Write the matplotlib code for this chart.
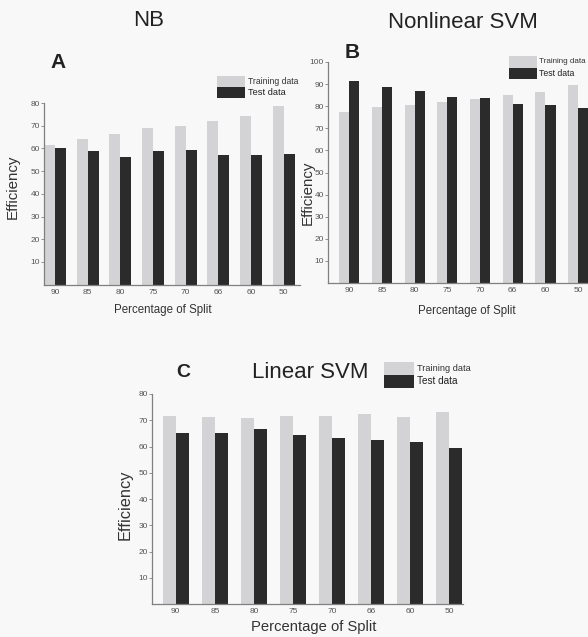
import numpy as np
import matplotlib.pyplot as plt
from matplotlib.patches import Rectangle

plt.rcParams['font.family'] = ['Liberation Sans', 'DejaVu Sans']

# split percentages (x categories)
splits = ['90', '85', '80', '75', '70', '66', '60', '50']

# NB efficiency
nb_train = [61.5, 64.0, 66.5, 69.0, 70.0, 72.0, 74.3, 78.5]
nb_test = [60.2, 58.7, 56.3, 59.0, 59.5, 57.0, 57.3, 57.7]

# Nonlinear SVM efficiency
nsvm_train = [77.5, 79.5, 80.7, 81.7, 83.3, 85.0, 86.3, 89.8]
nsvm_test = [91.2, 88.5, 87.0, 84.0, 83.8, 80.8, 80.4, 79.4]

# Linear SVM efficiency
lsvm_train = [71.5, 71.2, 71.0, 71.5, 71.5, 72.2, 71.2, 73.0]
lsvm_test = [65.3, 65.3, 66.7, 64.5, 63.2, 62.3, 61.7, 59.4]

W, H = 588, 637
BG = '#f8f8f8'
TRAIN_C = '#d3d3d5'
TEST_C = '#2b2b2b'
SPINE_C = '#808080'
TICK_C = '#555555'

fig = plt.figure(figsize=(W / 100, H / 100), dpi=100, facecolor=BG)


def px_axes(left, top, right, bottom):
    # pixel box (top-left origin) -> figure fraction
    return [left / W, 1 - bottom / H, (right - left) / W, (bottom - top) / H]


def ftext(x, y, s, **kw):
    fig.text(x / W, 1 - y / H, s, **kw)


def legend(x, y_top, pw, ph, fs, gap=3):
    fig.add_artist(Rectangle((x / W, 1 - (y_top + ph) / H), pw / W, ph / H,
                             transform=fig.transFigure, color=TRAIN_C, lw=0))
    fig.add_artist(Rectangle((x / W, 1 - (y_top + 2 * ph) / H), pw / W, ph / H,
                             transform=fig.transFigure, color=TEST_C, lw=0))
    ftext(x + pw + gap, y_top + ph / 2, 'Training data', fontsize=fs, color='#333333',
          va='center', ha='left')
    ftext(x + pw + gap, y_top + 1.5 * ph, 'Test data', fontsize=fs + 0.5, color='#222222',
          va='center', ha='left')


def panel(box, train, test, width, xlim, ylim, yticks):
    ax = fig.add_axes(px_axes(*box))
    ax.set_facecolor(BG)
    x = np.arange(len(splits))
    ax.bar(x - width / 2, train, width, color=TRAIN_C, lw=0)
    ax.bar(x + width / 2, test, width, color=TEST_C, lw=0)
    ax.set_xlim(*xlim)
    ax.set_ylim(*ylim)
    ax.set_xticks(x)
    ax.set_xticklabels(splits)
    ax.set_yticks(yticks)
    for s in ['top', 'right']:
        ax.spines[s].set_visible(False)
    for s in ['left', 'bottom']:
        ax.spines[s].set_color(SPINE_C)
        ax.spines[s].set_linewidth(0.9)
    ax.tick_params(axis='y', length=2, width=0.6, color=SPINE_C, labelsize=6,
                   labelcolor=TICK_C, pad=1)
    ax.tick_params(axis='x', length=0, labelsize=6, labelcolor=TICK_C, pad=3)
    return ax


# A - NB
panel((44, 103, 300, 284.7), nb_train, nb_test, 0.336, (-0.336, 7.5), (0, 80),
      range(10, 81, 10))
ftext(149, 20, 'NB', fontsize=16, ha='center', va='center', color='#222222')
ftext(58, 62, 'A', fontsize=15, fontweight='bold', ha='center', va='center', color='#222222')
legend(217, 76, 28, 11, 6.2)
ftext(13, 187, 'Efficiency', fontsize=10.9, rotation=90, ha='center', va='center', color='#333333')
ftext(163, 310, 'Percentage of Split', fontsize=8.3, ha='center', va='center', color='#333333')

# B - Nonlinear SVM
panel((328, 62, 588.6, 283), nsvm_train, nsvm_test, 0.31, (-0.65, 7.32), (0, 100),
      range(10, 101, 10))
ftext(463, 22, 'Nonlinear SVM', fontsize=16, ha='center', va='center', color='#222222')
ftext(352, 53, 'B', fontsize=15, fontweight='bold', ha='center', va='center', color='#222222')
legend(509, 56, 28, 11.5, 5.8, gap=2)
ftext(308, 193, 'Efficiency', fontsize=10.9, rotation=90, ha='center', va='center', color='#333333')
ftext(467, 311, 'Percentage of Split', fontsize=8.3, ha='center', va='center', color='#333333')

# C - Linear SVM
panel((152, 394, 463, 604), lsvm_train, lsvm_test, 0.333, (-0.61, 7.36), (0, 80),
      range(10, 81, 10))
ftext(310, 373, 'Linear SVM', fontsize=16, ha='center', va='center', color='#222222')
ftext(183, 372, 'C', fontsize=14, fontweight='bold', ha='center', va='center', color='#222222')
legend(384, 362, 30, 13, 6.7)
ftext(125, 505, 'Efficiency', fontsize=11.8, rotation=90, ha='center', va='center', color='#333333')
ftext(314, 627, 'Percentage of Split', fontsize=10.6, ha='center', va='center', color='#333333')

plt.savefig('out.png', dpi=100, facecolor=BG)
